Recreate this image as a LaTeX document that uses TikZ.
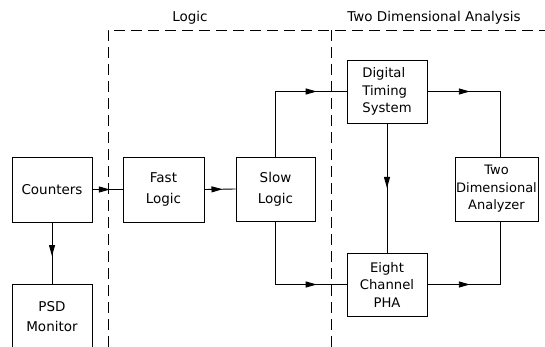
\documentclass[tikz,border=0pt]{standalone}
\usepackage{fontspec}
\setmainfont{DejaVu Sans}
\usetikzlibrary{arrows.meta,decorations.markings}
\tikzset{
  blk/.style={draw, line width=0.95pt, inner sep=0pt, align=center,
    font=\fontsize{13.2}{17.5}\selectfont},
  conn/.style={line width=0.9pt},
  midarrow/.style={conn, postaction={decorate}, decoration={markings,
    mark=at position #1 with {\arrow{Triangle[length=11pt,width=6pt]}}}},
  midarrow/.default=0.58,
  zone/.style={line width=0.9pt, dash pattern=on 11pt off 6pt},
  lbl/.style={font=\fontsize{13.5}{16}\selectfont, anchor=base}
}
\begin{document}
\begin{tikzpicture}[x=1pt,y=-1pt]
\useasboundingbox (0,0) rectangle (545,347);
\clip (0,0) rectangle (545,347);
% zones
\coordinate (z1t) at (108,30);
\coordinate (z1b) at (108,347);
\coordinate (z2t) at (331,30);
\coordinate (z2b) at (331,347);
\coordinate (zr) at (545,30);
\draw[zone] (z1b) -- (z1t) -- (zr);
\draw[zone] (z2t) -- (z2b);
\node[lbl] (llogic) at (190,21.5) {Logic};
\node[lbl] (ltwo) at (434,21.5) {Two Dimensional Analysis};
% blocks
\node[blk, minimum width=80pt, minimum height=65pt, font=\fontsize{13.5}{17.5}\selectfont] (counters) at (52,189.5) {Counters};
\node[blk, minimum width=80pt, minimum height=66pt, font=\fontsize{13.5}{20}\selectfont] (psd) at (52,317) {PSD\\Monitor};
\node[blk, minimum width=81pt, minimum height=65pt, font=\fontsize{13.5}{21}\selectfont] (fast) at (163.5,189.5) {Fast\\Logic};
\node[blk, minimum width=79pt, minimum height=64pt, font=\fontsize{13.5}{21}\selectfont] (slow) at (275.5,189) {Slow\\Logic};
\node[blk, minimum width=80pt, minimum height=63pt, align=left] (dts) at (387,91.5) {Digital\\Timing\\System};
\node[blk, minimum width=80pt, minimum height=63pt] (pha) at (387,284.5) {Eight\\Channel\\PHA};
\node[blk, minimum width=83pt, minimum height=64pt, font=\fontsize{13}{17.5}\selectfont] (ana) at (496.5,189) {Two\\Dimensional\\Analyzer};
% connectors
\coordinate (rx) at (500.5,0);
\draw[midarrow] (counters.east) -- (fast.west);
\draw[midarrow] (fast.east) -- (slow.west);
\draw[midarrow=0.55] (counters.south) -- (psd.north);
\coordinate (c1) at (slow.north |- dts.west);
\draw[conn] (slow.north) -- (c1);
\draw[midarrow] (c1) -- (dts.west);
\coordinate (c2) at (slow.south |- pha.west);
\draw[conn] (slow.south) -- (c2);
\draw[midarrow] (c2) -- (pha.west);
\draw[midarrow=0.5] (dts.south) -- (pha.north);
\coordinate (c3) at (dts.east -| rx);
\draw[midarrow] (dts.east) -- (c3);
\draw[conn] (c3) -- (ana.north -| rx);
\coordinate (c4) at (pha.east -| rx);
\draw[midarrow] (pha.east) -- (c4);
\draw[conn] (c4) -- (ana.south -| rx);
\end{tikzpicture}
\end{document}
